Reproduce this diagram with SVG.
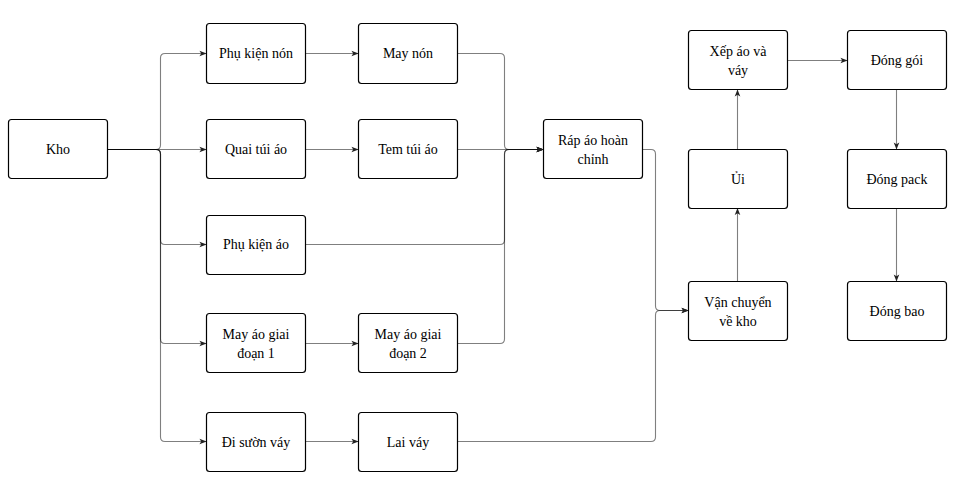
<svg xmlns="http://www.w3.org/2000/svg" width="959" height="492" viewBox="0 0 959 492">
<defs>
<style>
.n rect{fill:#fff;stroke:#000;stroke-width:1.2}
.n text{font-family:"Liberation Serif","Times New Roman","DejaVu Serif",serif;font-size:14px;fill:#000;text-anchor:middle}
.e path{fill:none;stroke:#000;stroke-opacity:0.5;stroke-width:1.1}
</style>
<marker id="a" viewBox="0 0 8 8" refX="7.5" refY="4" markerWidth="7" markerHeight="7" markerUnits="userSpaceOnUse" orient="auto">
<path d="M0,0.8 L8,4 L0,7.2 L2,4 Z" fill="#222"/>
</marker>
</defs>
<rect width="959" height="492" fill="#fff"/>
<g class="e" id="connectors">
<path d="M107.5,149.5 H156 Q160.5,149.5 160.5,145 V58 Q160.5,53.5 165,53.5 H206" marker-end="url(#a)"/>
<path d="M107.5,149.5 H206" marker-end="url(#a)"/>
<path d="M107.5,149.5 H156 Q160.5,149.5 160.5,154 V240 Q160.5,244.5 165,244.5 H206" marker-end="url(#a)"/>
<path d="M107.5,149.5 H156 Q160.5,149.5 160.5,154 V339 Q160.5,343.5 165,343.5 H206" marker-end="url(#a)"/>
<path d="M107.5,149.5 H156 Q160.5,149.5 160.5,154 V437 Q160.5,441.5 165,441.5 H206" marker-end="url(#a)"/>
<path d="M305.5,53.5 H358" marker-end="url(#a)"/>
<path d="M305.5,149.5 H358" marker-end="url(#a)"/>
<path d="M305.5,343.5 H358" marker-end="url(#a)"/>
<path d="M305.5,441.5 H358" marker-end="url(#a)"/>
<path d="M457.5,53.5 H500 Q504.5,53.5 504.5,58 V145 Q504.5,149.5 509,149.5 H543" marker-end="url(#a)"/>
<path d="M457.5,149.5 H543" marker-end="url(#a)"/>
<path d="M305.5,244.5 H500 Q504.5,244.5 504.5,240 V154 Q504.5,149.5 509,149.5 H543" marker-end="url(#a)"/>
<path d="M457.5,343.5 H500 Q504.5,343.5 504.5,339 V154 Q504.5,149.5 509,149.5 H543" marker-end="url(#a)"/>
<path d="M642.5,149.5 H651 Q655.5,149.5 655.5,154 V306 Q655.5,310.5 660,310.5 H688" marker-end="url(#a)"/>
<path d="M457.5,441.5 H651 Q655.5,441.5 655.5,437 V315 Q655.5,310.5 660,310.5 H688" marker-end="url(#a)"/>
<path d="M737.5,281 V208.5" marker-end="url(#a)"/>
<path d="M737.5,149 V90" marker-end="url(#a)"/>
<path d="M787.5,60.5 H847" marker-end="url(#a)"/>
<path d="M896.5,90 V149" marker-end="url(#a)"/>
<path d="M896.5,208.5 V281" marker-end="url(#a)"/>
</g>
<g class="n" id="kho"><rect x="8.5" y="119.5" width="99" height="59" rx="3"/><text x="58" y="154">Kho</text></g>
<g class="n" id="phu-kien-non"><rect x="206.5" y="23.5" width="99" height="60" rx="3"/><text x="256" y="58">Phụ kiện nón</text></g>
<g class="n" id="quai-tui-ao"><rect x="206.5" y="119.5" width="99" height="59" rx="3"/><text x="256" y="154">Quai túi áo</text></g>
<g class="n" id="phu-kien-ao"><rect x="206.5" y="215.5" width="99" height="59" rx="3"/><text x="256" y="249">Phụ kiện áo</text></g>
<g class="n" id="may-ao-gd1"><rect x="206.5" y="313.5" width="99" height="59" rx="3"/><text x="256" y="339">May áo giai</text><text x="256" y="358">đoạn 1</text></g>
<g class="n" id="di-suon-vay"><rect x="206.5" y="412.5" width="99" height="59" rx="3"/><text x="256" y="447">Đi sườn váy</text></g>
<g class="n" id="may-non"><rect x="358.5" y="23.5" width="99" height="60" rx="3"/><text x="408" y="58">May nón</text></g>
<g class="n" id="tem-tui-ao"><rect x="358.5" y="119.5" width="99" height="59" rx="3"/><text x="408" y="154">Tem túi áo</text></g>
<g class="n" id="may-ao-gd2"><rect x="358.5" y="313.5" width="99" height="59" rx="3"/><text x="408" y="339">May áo giai</text><text x="408" y="358">đoạn 2</text></g>
<g class="n" id="lai-vay"><rect x="358.5" y="412.5" width="99" height="59" rx="3"/><text x="408" y="447">Lai váy</text></g>
<g class="n" id="rap-ao"><rect x="543.5" y="119.5" width="99" height="59" rx="3"/><text x="593" y="145">Ráp áo hoàn</text><text x="593" y="164">chỉnh</text></g>
<g class="n" id="van-chuyen"><rect x="688.5" y="281.5" width="99" height="59" rx="3"/><text x="738" y="307">Vận chuyển</text><text x="738" y="326">về kho</text></g>
<g class="n" id="ui"><rect x="688.5" y="149.5" width="99" height="59" rx="3"/><text x="738" y="184">Ủi</text></g>
<g class="n" id="xep-ao"><rect x="688.5" y="30.5" width="99" height="59" rx="3"/><text x="738" y="56">Xếp áo và</text><text x="738" y="75">váy</text></g>
<g class="n" id="dong-goi"><rect x="847.5" y="30.5" width="99" height="59" rx="3"/><text x="897" y="65">Đóng gói</text></g>
<g class="n" id="dong-pack"><rect x="847.5" y="149.5" width="99" height="59" rx="3"/><text x="897" y="184">Đóng pack</text></g>
<g class="n" id="dong-bao"><rect x="847.5" y="281.5" width="99" height="59" rx="3"/><text x="897" y="316">Đóng bao</text></g>
</svg>
